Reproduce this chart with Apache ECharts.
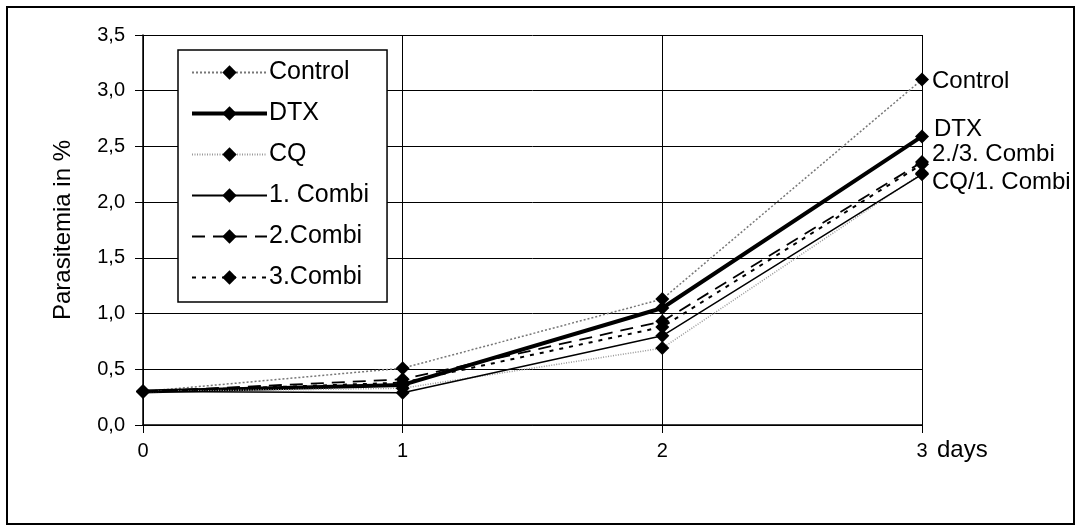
<!DOCTYPE html>
<html><head><meta charset="utf-8">
<script src="https://cdn.jsdelivr.net/npm/echarts@6/dist/echarts.min.js"></script>
<style>html,body{margin:0;padding:0;background:#fff}#c{width:1080px;height:531px}</style>
</head><body><div id="c"></div>
<script>
const days = ['0','1','2','3'];
const control = [0.30, 0.51, 1.13, 3.10];
const dtx     = [0.30, 0.36, 1.05, 2.59];
const cq      = [0.30, 0.33, 0.69, 2.26];
const combi1  = [0.30, 0.29, 0.80, 2.25];
const combi2  = [0.30, 0.41, 0.93, 2.36];
const combi3  = [0.30, 0.38, 0.88, 2.34];

const FONT = 'Liberation Sans';
const chart = echarts.init(document.getElementById('c'));
function endLabel(text, offset){
  return {show:true, position:'right', distance:3, offset:offset, color:'#000', fontFamily:FONT, fontSize:24,
    formatter: p => p.dataIndex === 3 ? text : ''};
}
function mk(name, data, ls, label){
  return {name, type:'line', data, symbol:'diamond', symbolSize:14, itemStyle:{color:'#000'},
    lineStyle:ls, label: label || {show:false}, z: 3, animation:false};
}
chart.setOption({
  animation:false,
  grid:{left:143, right:158, top:35, bottom:106, containLabel:false},
  legend:{orient:'vertical', left:178, top:50, padding:[10,18,12,12], itemWidth:75, itemHeight:18, itemGap:16,
    backgroundColor:'#fff', borderColor:'#000', borderWidth:1.5,
    data:['Control', {name:'DTX', lineStyle:{width:4}}, 'CQ', '1. Combi', '2.Combi', '3.Combi'],
    textStyle:{fontFamily:FONT, fontSize:25, color:'#000', padding:[0,0,0,-3]}, z:10},
  xAxis:{type:'category', data:days, boundaryGap:false,
    axisLine:{lineStyle:{color:'#000', width:1.5}}, axisTick:{show:true, length:8, lineStyle:{color:'#000'}},
    axisLabel:{fontFamily:FONT, fontSize:20, color:'#000', margin:16},
    splitLine:{show:true, lineStyle:{color:'#000', width:1}}},
  yAxis:{type:'value', min:0, max:3.5, interval:0.5, name:'Parasitemia in %', nameLocation:'middle', nameGap:68,
    nameTextStyle:{fontFamily:FONT, fontSize:24, color:'#000'},
    axisLine:{show:true, lineStyle:{color:'#000', width:1.5}}, axisTick:{show:true, length:8, lineStyle:{color:'#000'}},
    axisLabel:{fontFamily:FONT, fontSize:20, color:'#000', margin:18, formatter:v => v.toFixed(1).replace('.',',')},
    splitLine:{show:true, lineStyle:{color:'#000', width:1}}},
  graphic:[
    {type:'rect', shape:{x:7,y:7,width:1067,height:517}, style:{fill:'none', stroke:'#000', lineWidth:2}, silent:true, z:-1},
    {type:'text', left:937, top:438, style:{text:'days', fontFamily:FONT, fontSize:24, fill:'#000'}}
  ],
  series:[
    mk('Control', control, {color:'#777', width:1.5, type:[2,2]}, endLabel('Control',[0,2])),
    mk('DTX', dtx, {color:'#000', width:4, type:'solid'}, endLabel('DTX',[2,-7])),
    mk('CQ', cq, {color:'#999', width:1.5, type:[1,1.5]}),
    mk('1. Combi', combi1, {color:'#000', width:1.5, type:'solid'}, endLabel('CQ/1. Combi',[0,8])),
    mk('2.Combi', combi2, {color:'#000', width:1.8, type:[13,8]}, endLabel('2./3. Combi',[0,-8])),
    mk('3.Combi', combi3, {color:'#000', width:2, type:[4,6]})
  ]
});
</script></body></html>
